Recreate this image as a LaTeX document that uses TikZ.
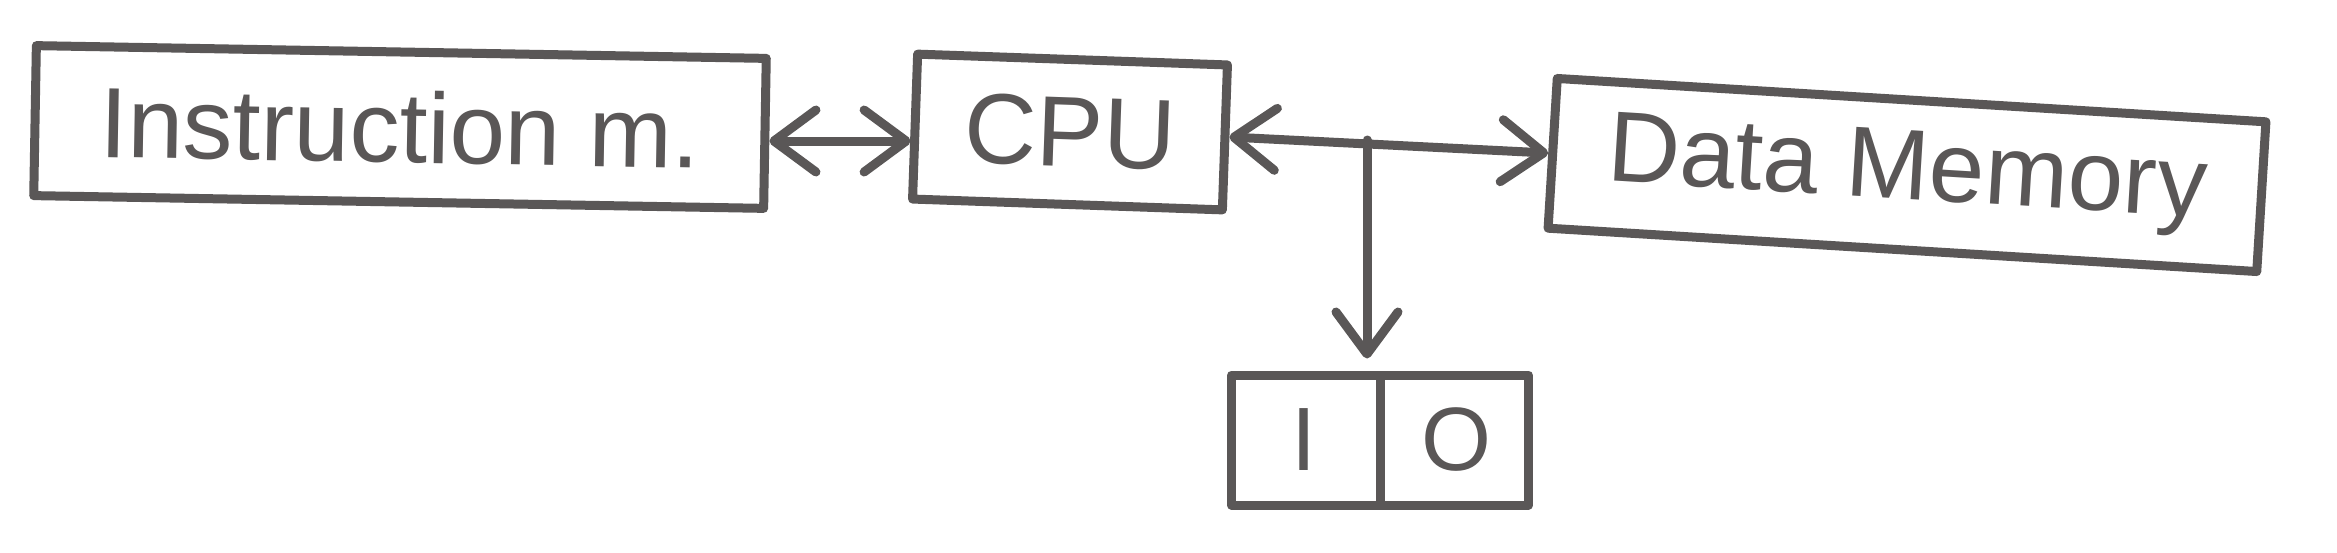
\documentclass[tikz,border=0pt]{standalone}
\usepackage{fontspec}
\setmainfont{Liberation Sans}
\usetikzlibrary{arrows.meta,shapes.multipart}
\definecolor{ink}{HTML}{5A5757}
\tikzset{
  box/.style={draw=ink, line width=9pt, text=ink, inner sep=0pt, font=\fontsize{100}{110}\selectfont, line join=round},
  link/.style={draw=ink, line width=9pt, line cap=round},
  hb/.tip={Straight Barb[length=42pt, width=62pt, line width=9pt, round]}
}
\begin{document}
\begin{tikzpicture}[x=1pt,y=-1pt]
\useasboundingbox[fill=white] (0,0) rectangle (2337,552);
\node[box, minimum width=730pt, minimum height=150pt, rotate=-1] (im) at (400,127) {Instruction m.};
\node[box, minimum width=310pt, minimum height=145pt, rotate=-2] (cpu) at (1070,132) {CPU};
\node[box, minimum width=710pt, minimum height=150pt, rotate=-3.5] (dm) at (1907,175) {Data Memory};
\node[box, rectangle split, rectangle split horizontal, rectangle split parts=2,
      minimum height=130pt, inner xsep=42pt, font=\fontsize{90}{100}\selectfont] (io) at (1380,440) {\makebox[60pt]{I}\nodepart{two}\makebox[60pt]{O}};
\coordinate (tap) at (1367,140);
\draw[link, {hb}-{hb}] (im.east |- 0,141) -- (cpu.west |- 0,141);
\draw[link, {hb}-{hb}] (cpu.east |- 0,137) -- (dm.west);
\draw[link, -{hb}] (tap) -- ([yshift=12pt]tap |- io.north);
\end{tikzpicture}
\end{document}
